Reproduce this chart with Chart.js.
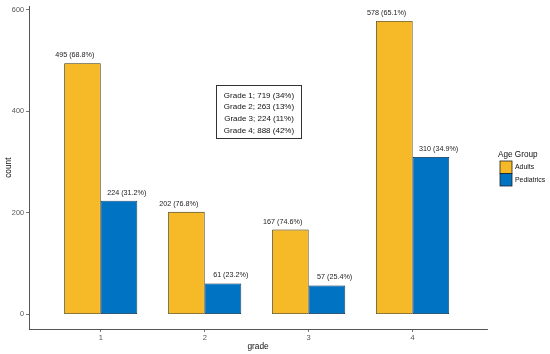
<!DOCTYPE html>
<html>
<head>
<meta charset="utf-8">
<script src="https://cdn.jsdelivr.net/npm/chart.js@4/dist/chart.umd.min.js"></script>
<style>
html,body{margin:0;padding:0;background:#fff;}
#wrap{width:550px;height:354px;position:relative;}
</style>
</head>
<body>
<div id="wrap"><canvas id="c" width="550" height="354"></canvas></div>
<script>
const grades = [1, 2, 3, 4];
const adults = [495, 202, 167, 578];
const pediatrics = [224, 61, 57, 310];
const adultPct = ['68.8', '76.8', '74.6', '65.1'];
const pediatricPct = ['31.2', '23.2', '25.4', '34.9'];
const yTicks = [0, 200, 400, 600];
const seriesNames = ['Adults', 'Pediatrics'];
const legendTitle = 'Age Group';
const boxLines = ['Grade 1; 719 (34%)', 'Grade 2; 263 (13%)', 'Grade 3; 224 (11%)', 'Grade 4; 888 (42%)'];

const FONT = '"Liberation Sans", Arial, sans-serif';
const COL_A = '#F6B928';
const COL_P = '#0073C2';

const labelPlugin = {
  id: 'barLabels',
  afterDatasetsDraw(chart) {
    const ctx = chart.ctx;
    const xs = chart.scales.x;
    ctx.save();
    ctx.font = '7.2px ' + FONT;
    ctx.fillStyle = '#222';
    ctx.textAlign = 'center';
    ctx.textBaseline = 'middle';
    const pcts = [adultPct, pediatricPct];
    const dodge = [-0.25, 0.25];
    chart.data.datasets.forEach((ds, di) => {
      const meta = chart.getDatasetMeta(di);
      meta.data.forEach((el, i) => {
        const x = xs.getPixelForValue(ds.data[i].x + dodge[di]);
        ctx.fillText(ds.data[i].y + ' (' + pcts[di][i] + '%)', x, el.y - 8);
      });
    });
    ctx.restore();
  }
};

const annoPlugin = {
  id: 'anno',
  afterDraw(chart) {
    const ctx = chart.ctx;
    ctx.save();
    const cx = 259, top = 85.5, lh = 11.6;
    ctx.strokeStyle = '#333';
    ctx.lineWidth = 1;
    ctx.fillStyle = '#fff';
    ctx.fillRect(216.5, top, 85, 53);
    ctx.strokeRect(216.5, top, 85, 53);
    ctx.font = '8px ' + FONT;
    ctx.fillStyle = '#111';
    ctx.textAlign = 'center';
    ctx.textBaseline = 'middle';
    boxLines.forEach((t, i) => ctx.fillText(t, cx, top + 10 + i * lh));
    ctx.textAlign = 'left';
    ctx.font = '8.2px ' + FONT;
    ctx.fillStyle = '#111';
    ctx.fillText(legendTitle, 498, 155);
    const cols = [COL_A, COL_P];
    ctx.font = '6.9px ' + FONT;
    seriesNames.forEach((n, i) => {
      const y = 161 + i * 12.5;
      ctx.fillStyle = cols[i];
      ctx.fillRect(500, y, 12, 12.5);
      ctx.strokeStyle = '#222';
      ctx.lineWidth = 0.8;
      ctx.strokeRect(500, y, 12, 12.5);
      ctx.fillStyle = '#111';
      ctx.fillText(n, 515, y + 6.5);
    });
    ctx.restore();
  }
};

new Chart(document.getElementById('c'), {
  type: 'bar',
  data: {
    datasets: [
      {
        label: seriesNames[0],
        data: grades.map((g, i) => ({x: g, y: adults[i]})),
        backgroundColor: COL_A,
        borderColor: '#3a3000',
        borderWidth: 0.8,
        borderSkipped: false
      },
      {
        label: seriesNames[1],
        data: grades.map((g, i) => ({x: g, y: pediatrics[i]})),
        backgroundColor: COL_P,
        borderColor: '#001a33',
        borderWidth: 0.8,
        borderSkipped: false
      }
    ]
  },
  options: {
    responsive: false,
    animation: false,
    devicePixelRatio: 1,
    layout: {padding: {top: 5, right: 63, left: 0, bottom: 0}},
    datasets: {bar: {categoryPercentage: 0.703, barPercentage: 1}},
    plugins: {legend: {display: false}, tooltip: {enabled: false}},
    scales: {
      x: {
        type: 'linear',
        offset: false,
        min: 0.31,
        max: 4.715,
        afterBuildTicks: s => { s.ticks = grades.map(v => ({value: v})); },
        afterFit: s => { s.height = 25; },
        grid: {offset: false, drawOnChartArea: false, drawTicks: true, tickLength: 3, color: '#555', lineWidth: 0.8},
        border: {display: true, color: '#555', width: 1},
        ticks: {font: {size: 7.5, family: FONT}, color: '#555', padding: 1},
        title: {display: true, text: 'grade', font: {size: 8.3, family: FONT}, color: '#111', padding: {top: 0, bottom: 2}}
      },
      y: {
        min: -28.9,
        max: 606.9,
        afterBuildTicks: s => { s.ticks = yTicks.map(v => ({value: v})); },
        afterFit: s => { s.width = 29; },
        grid: {drawOnChartArea: false, drawTicks: true, tickLength: 3, color: '#555', lineWidth: 0.8},
        border: {display: true, color: '#555', width: 1},
        ticks: {font: {size: 7.3, family: FONT}, color: '#555', padding: 2},
        title: {display: true, text: 'count', font: {size: 8.3, family: FONT}, color: '#111', padding: {top: 3.5, bottom: 2}}
      }
    }
  },
  plugins: [labelPlugin, annoPlugin]
});
</script>
</body>
</html>
